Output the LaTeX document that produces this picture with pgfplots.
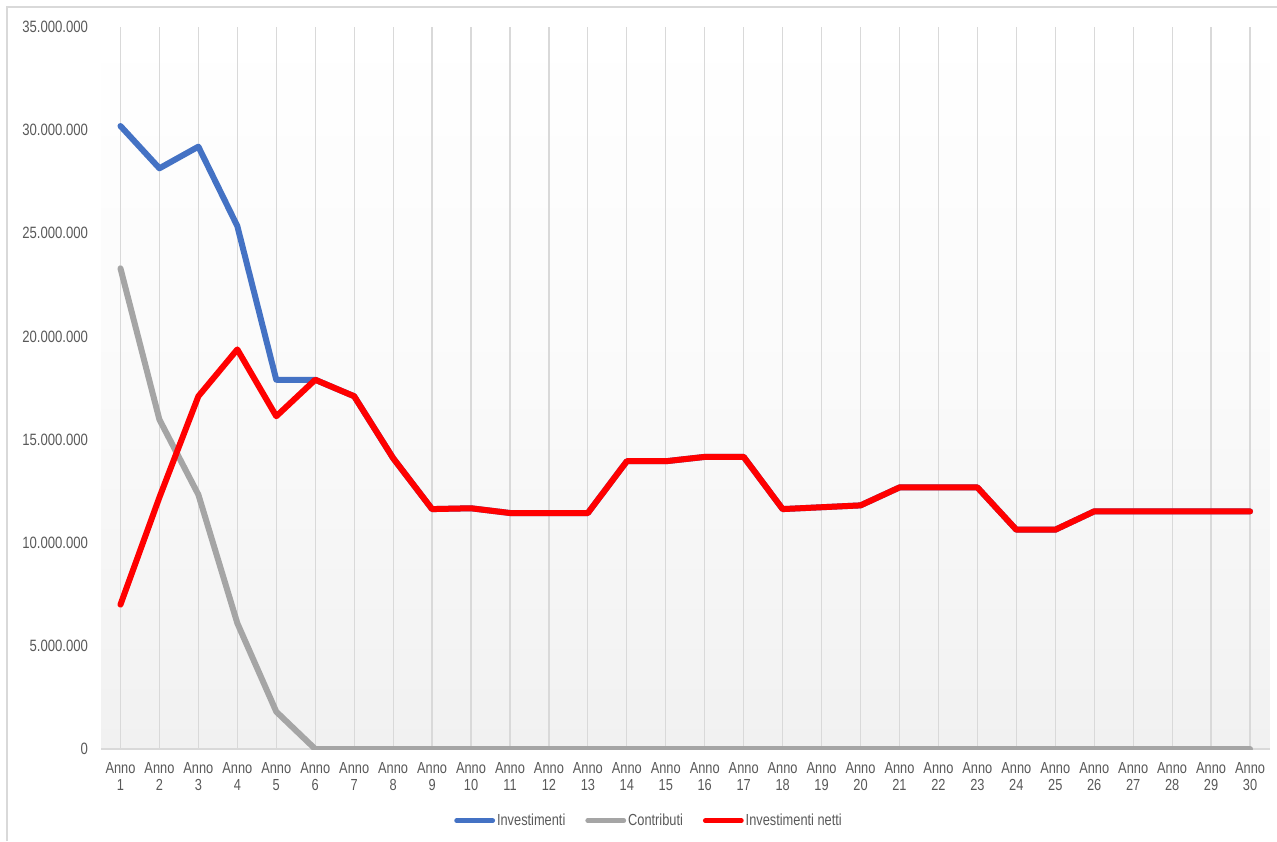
\documentclass[border=0pt]{standalone}
\usepackage{fontspec}
\setmainfont{Liberation Sans}[FakeStretch=0.8]
\usepackage{pgfplots}
\pgfplotsset{compat=1.18}
\definecolor{cblue}{RGB}{68,114,196}
\definecolor{cgrey}{RGB}{165,165,165}
\definecolor{cred}{RGB}{255,0,0}
\definecolor{gridc}{RGB}{217,217,217}
\definecolor{txt}{RGB}{89,89,89}
\definecolor{bgb}{RGB}{241,241,241}
\begin{document}
\begin{tikzpicture}
\useasboundingbox (-50.5pt,-46pt) rectangle (588pt,374.5pt);
\draw[gridc, line width=0.8pt] (-47pt,-46pt) -- (-47pt,371pt) -- (588pt,371pt);
\begin{axis}[
  at={(0,0)}, anchor=south west,
  scale only axis,
  width=584.25pt, height=361pt,
  xmin=0.5, xmax=30.5,
  ymin=0, ymax=35000000,
  axis x line*=bottom, axis y line*=left,
  x axis line style={gridc, line width=0.8pt},
  y axis line style={draw=none},
  axis background/.style={shade, top color=white, bottom color=bgb, middle color={rgb,255:red,250;green,250;blue,250}},
  xtick={1,...,30},
  xticklabels={{Anno\\1},{Anno\\2},{Anno\\3},{Anno\\4},{Anno\\5},{Anno\\6},{Anno\\7},{Anno\\8},{Anno\\9},{Anno\\10},{Anno\\11},{Anno\\12},{Anno\\13},{Anno\\14},{Anno\\15},{Anno\\16},{Anno\\17},{Anno\\18},{Anno\\19},{Anno\\20},{Anno\\21},{Anno\\22},{Anno\\23},{Anno\\24},{Anno\\25},{Anno\\26},{Anno\\27},{Anno\\28},{Anno\\29},{Anno\\30}},
  xticklabel style={align=center, font=\fontsize{8}{8.5}\selectfont, text=txt, yshift=-3pt},
  ytick={0,5000000,10000000,15000000,20000000,25000000,30000000,35000000},
  scaled y ticks=false,
  yticklabel style={/pgf/number format/fixed, /pgf/number format/1000 sep={.}, /pgf/number format/assume math mode=true, font=\fontsize{8.2}{9}\selectfont, text=txt, xshift=-3pt},
  major tick length=0pt,
  xmajorgrids, ymajorgrids=false,
  major grid style={gridc, line width=0.6pt},
  legend columns=3,
  legend style={at={(0.469,-0.0993)}, anchor=center, draw=none, fill=none,
     font=\fontsize{8}{9}\selectfont, text=txt,
     nodes={inner xsep=1pt},
     /tikz/every even column/.append style={column sep=9pt}},
  legend image code/.code={\draw[#1, line width=2.4pt] (0pt,0pt) -- (18pt,0pt);},
  every axis plot/.append style={line width=3pt, line join=round, line cap=round},
]
\addplot[cblue] coordinates {
(1,30200000) (2,28150000) (3,29200000) (4,25350000) (5,17900000) (6,17900000)
(7,17100000) (8,14100000) (9,11630000) (10,11670000) (11,11440000) (12,11440000)
(13,11440000) (14,13950000) (15,13950000) (16,14160000) (17,14160000) (18,11630000)
(19,11720000) (20,11810000) (21,12680000) (22,12680000) (23,12680000) (24,10630000)
(25,10630000) (26,11520000) (27,11520000) (28,11520000) (29,11520000) (30,11520000)};
\addlegendentry{Investimenti}
\addplot[cgrey] coordinates {
(1,23300000) (2,15970000) (3,12330000) (4,6100000) (5,1810000) (6,0)
(7,0) (8,0) (9,0) (10,0) (11,0) (12,0) (13,0) (14,0) (15,0) (16,0) (17,0) (18,0)
(19,0) (20,0) (21,0) (22,0) (23,0) (24,0) (25,0) (26,0) (27,0) (28,0) (29,0) (30,0)};
\addlegendentry{Contributi}
\addplot[cred] coordinates {
(1,7000000) (2,12200000) (3,17100000) (4,19370000) (5,16130000) (6,17900000)
(7,17100000) (8,14100000) (9,11630000) (10,11670000) (11,11440000) (12,11440000)
(13,11440000) (14,13950000) (15,13950000) (16,14160000) (17,14160000) (18,11630000)
(19,11720000) (20,11810000) (21,12680000) (22,12680000) (23,12680000) (24,10630000)
(25,10630000) (26,11520000) (27,11520000) (28,11520000) (29,11520000) (30,11520000)};
\addlegendentry{Investimenti netti}
\end{axis}
\end{tikzpicture}
\end{document}
